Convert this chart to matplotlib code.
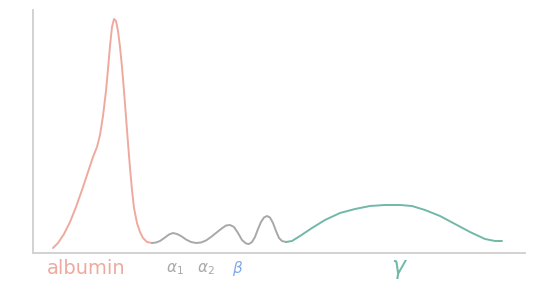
import matplotlib.pyplot as plt

# sketch trace, x = position across the gel, h = height above the baseline
albumin_x = [53, 58, 64, 70, 76, 82, 88, 93, 97, 100, 103, 106, 108, 110, 112, 114, 116, 118, 120, 122, 124,
             126, 128, 130, 132, 134, 137, 140, 143, 147, 152]
albumin_h = [5, 10, 19, 31, 46, 63, 81, 96, 106, 118, 137, 162, 184, 207, 226, 234, 232, 222, 206, 186, 162,
             136, 110, 85, 63, 45, 30, 21, 15, 11, 10]

globulin_x = [152, 156, 160, 165, 169, 173, 177, 181, 186, 191, 196, 201, 206, 211, 216, 221, 226, 230, 234,
              238, 242, 246, 249, 252, 255, 258, 261, 264, 267, 270, 273, 276, 279, 282, 286]
globulin_h = [10, 10.5, 12, 15.5, 18.5, 20, 19, 17, 13.5, 11, 10, 10.5, 12.5, 16, 20, 24, 27.5, 28, 26,
              20, 13, 9.5, 9, 11, 16, 24, 31, 35.5, 37, 35.5, 30, 22, 15, 12, 11]

gamma_x = [286, 292, 300, 312, 325, 340, 355, 370, 385, 400, 412, 425, 440, 455, 470, 485, 495, 502]
gamma_h = [11, 12, 17, 25, 33, 40, 44, 47, 48, 48, 47, 43, 37, 29, 21, 14, 12, 12]

labels = ['albumin', r'$\alpha_1$', r'$\alpha_2$', r'$\beta$', r'$\gamma$']
label_x = [86, 175, 206, 238, 400]
label_colors = ['#eeaa9e', '#a8a8a8', '#a8a8a8', '#80aaea', '#72b8a8']
label_sizes = [14, 11, 11, 11, 17]

fig = plt.figure(figsize=(5.39, 2.94), dpi=100)
ax = fig.add_axes([33 / 539, 41 / 294, (525 - 33) / 539, (253 - 10) / 294])
ax.set_xlim(33, 525)
ax.set_ylim(0, 243)

ax.plot(albumin_x, albumin_h, color='#eeaa9e', lw=1.4, solid_capstyle='round', solid_joinstyle='round')
ax.plot(globulin_x, globulin_h, color='#a8a8a8', lw=1.4, solid_capstyle='round', solid_joinstyle='round')
ax.plot(gamma_x, gamma_h, color='#72b8a8', lw=1.4, solid_capstyle='round', solid_joinstyle='round')

for s in ['top', 'right']:
    ax.spines[s].set_visible(False)
for s in ['left', 'bottom']:
    ax.spines[s].set_color('#d2d2d2')
    ax.spines[s].set_linewidth(1.4)
ax.set_xticks([])
ax.set_yticks([])

for t, x, c, fs in zip(labels, label_x, label_colors, label_sizes):
    ax.text(x, -16, t, color=c, fontsize=fs, ha='center', va='center', clip_on=False)

fig.savefig('out.png', dpi=100)
